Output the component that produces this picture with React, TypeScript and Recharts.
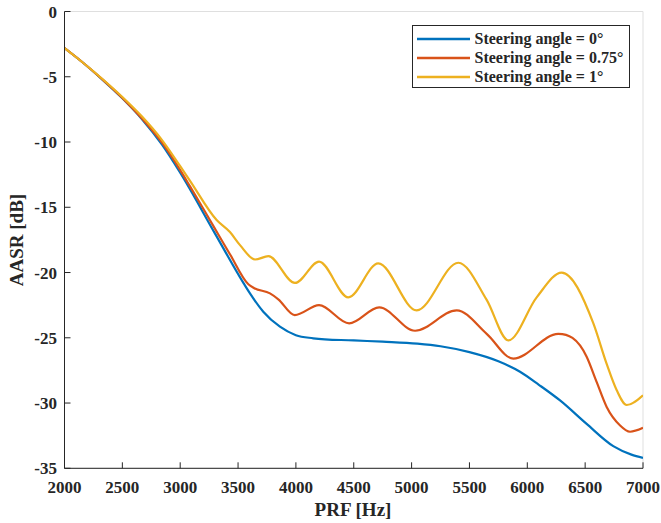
import React from 'react';
import { LineChart, Line, XAxis, YAxis, CartesianGrid, Label } from 'recharts';

const xTicks = [2000, 2500, 3000, 3500, 4000, 4500, 5000, 5500, 6000, 6500, 7000];
const yTicks = [-35, -30, -25, -20, -15, -10, -5, 0];

const seriesNames = ['Steering angle = 0°', 'Steering angle = 0.75°', 'Steering angle = 1°'];
const seriesColors = ['#0072BD', '#D95319', '#EDB120'];

const blueHz = [2000, 2150, 2325, 2500, 2670, 2843, 3000, 3300, 3550, 3603, 3718, 3862, 4000, 4150, 4500, 4750, 5050, 5250, 5500, 5750, 5937, 6100, 6283, 6513, 6743, 6900, 7000];
const blueDb = [-2.8, -3.85, -5.2, -6.65, -8.25, -10.2, -12.35, -17.0, -20.85, -21.6, -23.0, -24.15, -24.8, -25.04, -25.2, -25.3, -25.45, -25.65, -26.1, -26.8, -27.6, -28.6, -29.8, -31.6, -33.3, -33.95, -34.2];

const orangeHz = [2000, 2150, 2325, 2500, 2670, 2843, 3000, 3085, 3258, 3430, 3589, 3640, 3776, 3848, 3990, 4200, 4460, 4720, 5030, 5390, 5649, 5879, 6268, 6513, 6600, 6686, 6800, 6888, 7000];
const orangeDb = [-2.8, -3.85, -5.18, -6.62, -8.2, -10.05, -12.15, -13.4, -16.0, -18.6, -20.9, -21.2, -21.6, -22.05, -23.26, -22.5, -23.9, -22.67, -24.46, -22.9, -24.7, -26.6, -24.7, -26.45, -28.4, -30.3, -31.7, -32.2, -31.9];

const yellowHz = [2000, 2150, 2325, 2500, 2670, 2843, 3000, 3085, 3315, 3430, 3517, 3647, 3762, 3992, 4200, 4453, 4712, 5044, 5404, 5649, 5836, 6081, 6297, 6571, 6686, 6772, 6859, 7000];
const yellowDb = [-2.8, -3.85, -5.15, -6.55, -8.05, -9.85, -11.85, -12.97, -15.98, -16.9, -17.9, -19.0, -18.75, -20.8, -19.17, -21.9, -19.3, -22.9, -19.25, -22.1, -25.2, -21.9, -20.0, -23.9, -27.0, -29.0, -30.15, -29.4];

const toRows = (hz: number[], db: number[]) => hz.map((x, i) => ({ x, y: db[i] }));
const seriesData = [toRows(blueHz, blueDb), toRows(orangeHz, orangeDb), toRows(yellowHz, yellowDb)];

// Smooth cubic Hermite curve through points (three-point slopes, flat at local extrema)
function smoothCurve(context: any) {
  let xs: number[] = [];
  let ys: number[] = [];
  return {
    areaStart() {},
    areaEnd() {},
    lineStart() {
      xs = [];
      ys = [];
    },
    point(x: number, y: number) {
      xs.push(+x);
      ys.push(+y);
    },
    lineEnd() {
      const n = xs.length;
      if (n === 0) return;
      context.moveTo(xs[0], ys[0]);
      if (n === 1) return;
      if (n === 2) {
        context.lineTo(xs[1], ys[1]);
        return;
      }
      const m: number[] = new Array(n).fill(0);
      for (let i = 1; i < n - 1; i++) {
        const h0 = xs[i] - xs[i - 1];
        const h1 = xs[i + 1] - xs[i];
        const d0 = (ys[i] - ys[i - 1]) / h0;
        const d1 = (ys[i + 1] - ys[i]) / h1;
        if (d0 * d1 <= 0) m[i] = 0;
        else m[i] = (h1 * d0 + h0 * d1) / (h0 + h1);
      }
      {
        const h = xs[1] - xs[0];
        m[0] = (3 * (ys[1] - ys[0]) / h - m[1]) / 2;
        const hl = xs[n - 1] - xs[n - 2];
        m[n - 1] = (3 * (ys[n - 1] - ys[n - 2]) / hl - m[n - 2]) / 2;
      }
      for (let i = 0; i < n - 1; i++) {
        const h = xs[i + 1] - xs[i];
        context.bezierCurveTo(
          xs[i] + h / 3,
          ys[i] + (m[i] * h) / 3,
          xs[i + 1] - h / 3,
          ys[i + 1] - (m[i + 1] * h) / 3,
          xs[i + 1],
          ys[i + 1]
        );
      }
    },
  };
}

const FONT = '"Liberation Serif", "Times New Roman", serif';
const AXIS = '#262626';

export default function App() {
  return (
    <div style={{ position: 'absolute', left: 0, top: 0, width: 661, height: 523, background: '#fff', fontFamily: FONT }}>
      <LineChart width={661} height={523} margin={{ top: 11.5, right: 18, bottom: 4.7, left: 0 }}>
        <CartesianGrid stroke="#dfdfdf" strokeWidth={1} />
        <XAxis
          xAxisId="b"
          dataKey="x"
          type="number"
          domain={[2000, 7000]}
          ticks={xTicks}
          allowDataOverflow
          height={50}
          stroke={AXIS}
          tickSize={-6}
          tickMargin={19}
          tick={{ fill: AXIS, fontSize: 17, fontWeight: 'bold', fontFamily: FONT }}
        >
          <Label
            content={() => (
              <text x={353} y={516} textAnchor="middle" fill={AXIS} fontSize={19} fontWeight="bold" fontFamily={FONT}>
                PRF [Hz]
              </text>
            )}
          />
        </XAxis>
        <XAxis
          xAxisId="t"
          orientation="top"
          dataKey="x"
          type="number"
          domain={[2000, 7000]}
          ticks={xTicks}
          allowDataOverflow
          height={0}
          stroke={AXIS}
          tickSize={-6}
          tick={false}
        />
        <YAxis
          yAxisId="l"
          type="number"
          domain={[-35, 0]}
          ticks={yTicks}
          allowDataOverflow
          width={64.5}
          stroke={AXIS}
          tickSize={-6}
          tickMargin={13.5}
          tick={{ fill: AXIS, fontSize: 17, fontWeight: 'bold', fontFamily: FONT }}
        >
          <Label
            content={() => (
              <text x={23} y={240} transform="rotate(-90 23 240)" textAnchor="middle" fill={AXIS} fontSize={19} fontWeight="bold" fontFamily={FONT}>
                AASR [dB]
              </text>
            )}
          />
        </YAxis>
        <YAxis
          yAxisId="r"
          orientation="right"
          type="number"
          domain={[-35, 0]}
          ticks={yTicks}
          allowDataOverflow
          width={0}
          stroke={AXIS}
          tickSize={-6}
          tick={false}
        />
        {seriesData.map((d, i) => (
          <Line
            key={i}
            xAxisId="b"
            yAxisId="l"
            data={d}
            dataKey="y"
            type={smoothCurve as any}
            stroke={seriesColors[i]}
            strokeWidth={2.2}
            dot={false}
            activeDot={false}
            isAnimationActive={false}
            name={seriesNames[i]}
          />
        ))}
      </LineChart>
      <div
        style={{
          position: 'absolute',
          left: 411.5,
          top: 25,
          width: 216,
          height: 61,
          border: '1px solid #262626',
          background: '#fff',
          boxSizing: 'content-box',
        }}
      >
        {seriesNames.map((n, i) => (
          <div key={n} style={{ position: 'absolute', left: 4, top: 3 + i * 18.8, height: 19, display: 'flex', alignItems: 'center' }}>
            <svg width={54} height={19} style={{ display: 'block' }}>
              <line x1={0} x2={53} y1={10} y2={10} stroke={seriesColors[i]} strokeWidth={2.5} />
            </svg>
            <span style={{ marginLeft: 4, fontSize: 16, fontWeight: 'bold', color: AXIS, fontFamily: FONT, whiteSpace: 'nowrap', lineHeight: '19px' }}>{n}</span>
          </div>
        ))}
      </div>
    </div>
  );
}
